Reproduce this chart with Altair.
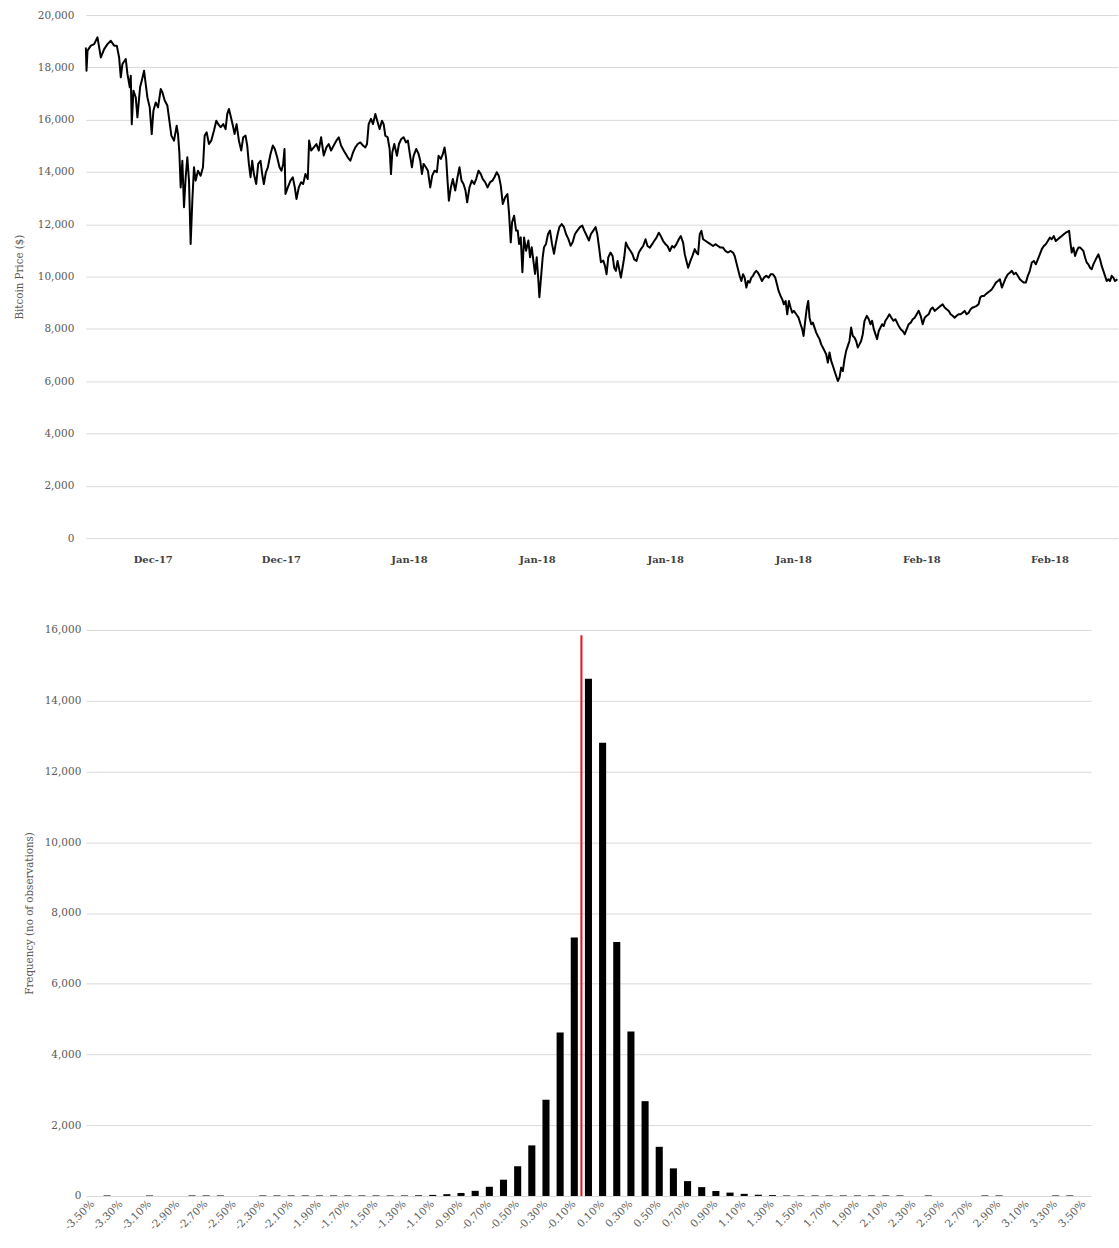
import altair as alt
import pandas as pd

# ---------------------------------------------------------------------------
# Bitcoin price, sampled along the observation sequence
# ---------------------------------------------------------------------------
obs = [
    # mid-December sell-off
    0, 2, 5, 15, 25, 35, 45, 55, 65, 75, 85, 93, 100, 105, 110, 120, 125, 132, 135, 138,
    143, 150, 155, 163, 168, 175, 180, 185, 192, 198, 203, 210, 217, 225, 230, 237, 245, 251, 257, 265,
    273, 277, 281, 285, 290, 295, 300, 305, 310, 315, 320, 325, 330, 337, 345, 352, 357, 363, 370, 377,
    385, 392, 398, 405, 413, 420, 425, 430, 435, 443, 447, 453, 460, 467, 473, 480, 485, 490, 495, 500,
    505, 512, 518, 525, 530, 535, 541, 547, 555, 562, 568, 575, 582, 588, 593, 597, 600, 607, 615, 622,
    628, 633, 640, 647, 653, 660, 667, 671, 677, 685, 693, 700, 707, 715, 723, 730, 737, 745, 753, 760,
    767, 775,
    # early to mid January
    787, 795, 803, 810, 817, 825, 833, 840, 845, 850, 857, 863, 870, 877, 883, 890, 895, 900, 907, 913,
    917, 921, 927, 935, 941, 948, 955, 962, 968, 973, 980, 985, 993, 1000, 1005, 1010, 1015, 1022, 1028, 1035,
    1041, 1048, 1055, 1060, 1067, 1073, 1078, 1083, 1087, 1091, 1097, 1103, 1110, 1117, 1123, 1129, 1135, 1141, 1146, 1153,
    1160, 1167, 1173, 1180, 1187, 1193, 1200, 1207, 1215, 1222, 1228, 1235, 1241, 1247, 1253, 1260, 1267, 1272, 1277, 1281,
    1287, 1293, 1298, 1302, 1307, 1312, 1317, 1323, 1330, 1335, 1340, 1345, 1350, 1355, 1360, 1363, 1368, 1373, 1377, 1383,
    1389, 1395, 1401, 1407, 1412, 1418, 1423, 1430, 1437, 1443, 1450, 1457, 1463, 1470, 1477, 1485, 1492, 1498, 1505, 1512,
    1518, 1525, 1532, 1537, 1543, 1548, 1555, 1560,
    # late January to the February low
    1565, 1570, 1577, 1583, 1588, 1593, 1598, 1603, 1608, 1613, 1618, 1623, 1630, 1637, 1643, 1648, 1655, 1662, 1668, 1675,
    1682, 1688, 1695, 1702, 1708, 1715, 1722, 1728, 1735, 1742, 1748, 1755, 1762, 1768, 1775, 1782, 1788, 1795, 1800, 1805,
    1810, 1817, 1823, 1830, 1835, 1840, 1845, 1850, 1855, 1863, 1870, 1877, 1885, 1892, 1900, 1907, 1915, 1922, 1930, 1937,
    1945, 1950, 1955, 1960, 1965, 1970, 1975, 1980, 1985, 1990, 1995, 2000, 2005, 2010, 2015, 2020, 2025, 2032, 2038, 2045,
    2052, 2058, 2065, 2072, 2077, 2082, 2088, 2093, 2098, 2103, 2108, 2113, 2118, 2123, 2128, 2135, 2142, 2148, 2153, 2157,
    2162, 2167, 2171, 2175, 2180, 2185, 2190, 2195, 2200, 2205, 2210, 2215, 2220, 2225, 2230, 2235, 2240, 2245, 2250, 2255,
    2260, 2265, 2270, 2275, 2280, 2285, 2290, 2295, 2300, 2305, 2310, 2315, 2320, 2325, 2330, 2335, 2340,
    # February recovery
    2347, 2353, 2358, 2363, 2368, 2373, 2378, 2383, 2388, 2393, 2398, 2403, 2409, 2415, 2421, 2427, 2433, 2438, 2443, 2449,
    2455, 2461, 2467, 2473, 2479, 2485, 2491, 2497, 2503, 2509, 2515, 2521, 2527, 2533, 2539, 2545, 2551, 2557, 2563, 2569,
    2575, 2581, 2587, 2593, 2599, 2605, 2611, 2617, 2623, 2629, 2635, 2641, 2647, 2653, 2659, 2665, 2671, 2677, 2683, 2688,
    2693, 2699, 2705, 2711, 2717, 2723, 2729, 2735, 2741, 2747, 2753, 2759, 2765, 2771, 2777, 2783, 2789, 2795, 2801, 2807,
    2813, 2819, 2825, 2831, 2837, 2843, 2849, 2855, 2861, 2867, 2873, 2879, 2885, 2891, 2897, 2903, 2909, 2915, 2921, 2927,
    2933, 2939, 2945, 2951, 2955, 2959, 2963, 2968, 2973, 2978, 2983, 2988, 2993, 2998, 3003, 3008, 3013, 3018, 3023, 3028,
    3033, 3038, 3043, 3048, 3053, 3058, 3063, 3068, 3073, 3078, 3083, 3088, 3093, 3100,
]

price = [
    18760, 17870, 18640, 18830, 18890, 19150, 18380, 18700, 18890, 19020, 18830, 18830, 18380, 17620, 18130, 18320, 17750, 17240, 17680, 15830,
    17110, 16850, 16090, 17240, 17490, 17870, 17360, 16850, 16470, 15450, 16340, 16660, 16470, 17170, 17050, 16730, 16540, 15960, 15390, 15200,
    15770, 15450, 14750, 13410, 14430, 12650, 13800, 14560, 13670, 11250, 12900, 14180, 13670, 14050, 13860, 14180, 15390, 15520, 15070, 15200,
    15580, 15960, 15830, 15710, 15830, 15640, 16220, 16410, 16150, 15710, 15450, 15830, 15200, 14820, 15330, 15390, 15010, 14310, 13800, 14430,
    13920, 13540, 14310, 14430, 13920, 13540, 13990, 14180, 14690, 15010, 14880, 14560, 14180, 14050, 14310, 14880, 13160, 13410, 13670, 13800,
    13410, 12970, 13410, 13610, 13540, 13920, 13730, 15200, 14820, 14940, 15070, 14820, 15330, 14630, 14940, 15070, 14820, 15010, 15200, 15330,
    15010, 14820,
    14560, 14430, 14750, 14940, 15070, 15130, 15010, 14940, 15070, 15830, 16030, 15830, 16220, 15900, 15640, 15960, 15830, 15390, 15330, 14880,
    13920, 14750, 15070, 14620, 15070, 15260, 15330, 15130, 15200, 14750, 14180, 14620, 14880, 14690, 14430, 13920, 14310, 14180, 14050, 13410,
    13860, 14050, 13990, 14620, 14500, 14690, 14940, 14500, 13670, 12900, 13410, 13730, 13290, 13800, 14180, 13670, 13540, 13290, 12840, 13410,
    13670, 13540, 13730, 14050, 13920, 13730, 13610, 13410, 13610, 13670, 13800, 13990, 13860, 13480, 12780, 13030, 13160, 12400, 11310, 12080,
    12330, 11760, 11760, 11250, 11500, 10170, 11500, 10990, 11380, 10740, 11120, 10610, 10100, 10740, 9850, 9210, 9970, 10740, 11120, 11250,
    11630, 11760, 11250, 10870, 11250, 11630, 11890, 12010, 11890, 11630, 11440, 11180, 11310, 11630, 11760, 11890, 11950, 11760, 11570, 11380,
    11630, 11760, 11890, 11630, 11060, 10550, 10610, 10420,
    10090, 10730, 10920, 10790, 10340, 10220, 10600, 10280, 9960, 10340, 10730, 11300, 11110, 10980, 10850, 10660, 10600, 10920, 11050, 11170,
    11430, 11170, 11110, 11240, 11360, 11490, 11680, 11550, 11360, 11240, 11170, 10980, 11170, 11110, 11240, 11430, 11550, 11300, 10850, 10600,
    10340, 10600, 10790, 11050, 10920, 10850, 11620, 11750, 11430, 11360, 11300, 11240, 11170, 11240, 11170, 11110, 11110, 10980, 10920, 10980,
    10920, 10790, 10540, 10280, 10030, 9830, 10090, 9960, 9580, 9830, 9770, 9960, 10030, 10150, 10220, 10150, 10030, 9830, 9960, 10030,
    9960, 10090, 10090, 9960, 9710, 9450, 9260, 9130, 8940, 9070, 8560, 9070, 8820, 8620, 8690, 8560, 8430, 8180, 7990, 7730,
    8310, 8820, 9070, 8430, 8180, 8240, 8050, 7860, 7730, 7610, 7410, 7290, 7160, 7030, 6710, 7100, 6780, 6590, 6390, 6200,
    6010, 6140, 6520, 6390, 6840, 7160, 7350, 7540, 8050, 7730, 7670, 7540, 7290, 7410, 7540, 7800, 8300,
    8500, 8370, 8180, 8310, 7990, 7800, 7610, 7920, 8050, 8180, 8110, 8310, 8430, 8560, 8430, 8310, 8370, 8240, 8110, 7990,
    7920, 7800, 7990, 8180, 8240, 8370, 8430, 8560, 8690, 8500, 8180, 8430, 8500, 8560, 8750, 8820, 8690, 8750, 8820, 8880,
    8940, 8820, 8750, 8690, 8560, 8500, 8430, 8500, 8560, 8560, 8620, 8690, 8560, 8620, 8750, 8820, 8840, 8880, 8940, 9200,
    9260, 9260, 9330, 9390, 9450, 9520, 9640, 9770, 9830, 9900, 9580, 9770, 9960, 10090, 10150, 10220, 10090, 10150, 10030, 9900,
    9830, 9770, 9770, 10030, 10220, 10540, 10600, 10470, 10660, 10850, 11050, 11170, 11240, 11360, 11490, 11430, 11550, 11360, 11430, 11490,
    11550, 11620, 11680, 11720, 11750, 11300, 10920, 11110, 10790, 10980, 11110, 11110, 11050, 10980, 10730, 10540, 10470, 10340, 10280, 10470,
    10600, 10730, 10850, 10660, 10410, 10220, 10030, 9830, 9900, 9830, 10030, 9960, 9830, 9900,
]

obs_total = 3102
price_ticks = [0, 2000, 4000, 6000, 8000, 10000, 12000, 14000, 16000, 18000, 20000]
date_tick_obs = [201, 586, 971, 1356, 1741, 2126, 2511, 2896]
date_tick_labels = ["Dec-17", "Dec-17", "Jan-18", "Jan-18", "Jan-18", "Jan-18", "Feb-18", "Feb-18"]

# ---------------------------------------------------------------------------
# Distribution of returns
# ---------------------------------------------------------------------------
return_bins = [
    "-3.50%", "-3.40%", "-3.30%", "-3.20%", "-3.10%", "-3.00%", "-2.90%", "-2.80%", "-2.70%", "-2.60%",
    "-2.50%", "-2.40%", "-2.30%", "-2.20%", "-2.10%", "-2.00%", "-1.90%", "-1.80%", "-1.70%", "-1.60%",
    "-1.50%", "-1.40%", "-1.30%", "-1.20%", "-1.10%", "-1.00%", "-0.90%", "-0.80%", "-0.70%", "-0.60%",
    "-0.50%", "-0.40%", "-0.30%", "-0.20%", "-0.10%", "0.00%", "0.10%", "0.20%", "0.30%", "0.40%",
    "0.50%", "0.60%", "0.70%", "0.80%", "0.90%", "1.00%", "1.10%", "1.20%", "1.30%", "1.40%",
    "1.50%", "1.60%", "1.70%", "1.80%", "1.90%", "2.00%", "2.10%", "2.20%", "2.30%", "2.40%",
    "2.50%", "2.60%", "2.70%", "2.80%", "2.90%", "3.00%", "3.10%", "3.20%", "3.30%", "3.40%",
    "3.50%",
]
frequency = [
    0, 15, 0, 0, 15, 0, 0, 15, 15, 15,
    0, 0, 15, 15, 15, 15, 15, 15, 15, 15,
    15, 15, 15, 20, 30, 50, 85, 145, 260, 460,
    840, 1430, 2720, 4620, 7310, 14620, 12810, 7180, 4650, 2680,
    1390, 780, 420, 250, 140, 95, 60, 35, 25, 15,
    15, 15, 15, 15, 15, 15, 15, 15, 0, 15,
    0, 0, 0, 15, 15, 0, 0, 0, 15, 15,
    0,
]
freq_ticks = [0, 2000, 4000, 6000, 8000, 10000, 12000, 14000, 16000]
shown_bins = return_bins[::2]
marker_bin = "0.00%"
marker_top = 15850

FONT = "DejaVu Serif"
TEXT = "#595959"
GRID = "#d9d9d9"

# ---------------------------------------------------------------------------
# Price line
# ---------------------------------------------------------------------------
price_df = pd.DataFrame({"obs": obs, "price": price})
date_label_expr = (
    "[" + ",".join(f"'{t}'" for t in date_tick_labels) + "]"
    + "[indexof([" + ",".join(str(v) for v in date_tick_obs) + "], datum.value)]"
)

price_chart = (
    alt.Chart(price_df)
    .mark_line(color="black", strokeWidth=2, strokeJoin="round")
    .encode(
        x=alt.X(
            "obs:Q",
            scale=alt.Scale(domain=[0, obs_total], nice=False, zero=False),
            axis=alt.Axis(
                values=date_tick_obs,
                labelExpr=date_label_expr,
                title=None,
                grid=False,
                domain=False,
                ticks=False,
                tickSize=0,
                labelPadding=16,
                labelFont=FONT,
                labelFontSize=10,
                labelFontWeight="bold",
                labelColor="#404040",
            ),
        ),
        y=alt.Y(
            "price:Q",
            scale=alt.Scale(domain=[0, 20000], nice=False),
            axis=alt.Axis(
                values=price_ticks,
                format=",.0f",
                title="Bitcoin Price ($)",
                titleFont=FONT,
                titleFontSize=10.3,
                titleFontWeight="normal",
                titleColor=TEXT,
                titlePadding=13,
                labelFont=FONT,
                labelFontSize=10.5,
                labelColor=TEXT,
                labelPadding=12,
                domain=False,
                ticks=False,
                tickSize=0,
                grid=True,
                gridColor=GRID,
                gridWidth=1,
            ),
        ),
    )
    .properties(width=1034, height=524)
)

# ---------------------------------------------------------------------------
# Histogram with the zero-return marker
# ---------------------------------------------------------------------------
hist_df = pd.DataFrame({"bin": return_bins, "freq": frequency})
marker_df = pd.DataFrame({"bin": [marker_bin], "top": [marker_top], "base": [0]})
bin_scale = alt.Scale(domain=return_bins, paddingInner=0.5, paddingOuter=0.25)

bars = (
    alt.Chart(hist_df)
    .mark_bar(color="black")
    .encode(
        x=alt.X(
            "bin:N",
            scale=bin_scale,
            sort=None,
            axis=alt.Axis(
                values=shown_bins,
                title=None,
                labelAngle=-45,
                labelAlign="right",
                labelBaseline="middle",
                labelFont=FONT,
                labelFontSize=10.5,
                labelColor=TEXT,
                labelPadding=6,
                domain=False,
                ticks=False,
                tickSize=0,
                grid=False,
            ),
        ),
        y=alt.Y(
            "freq:Q",
            scale=alt.Scale(domain=[0, 16000], nice=False),
            axis=alt.Axis(
                values=freq_ticks,
                format=",.0f",
                title="Frequency (no of observations)",
                titleFont=FONT,
                titleFontSize=10.3,
                titleFontWeight="normal",
                titleColor=TEXT,
                titlePadding=10,
                labelFont=FONT,
                labelFontSize=10.5,
                labelColor=TEXT,
                labelPadding=5,
                domain=False,
                ticks=False,
                tickSize=0,
                grid=True,
                gridColor=GRID,
                gridWidth=1,
            ),
        ),
    )
)

marker = (
    alt.Chart(marker_df)
    .mark_rule(color="#e8101c", strokeWidth=2, xOffset=-3.5)
    .encode(
        x=alt.X("bin:N", scale=bin_scale, sort=None, bandPosition=0),
        y=alt.Y("top:Q"),
        y2=alt.Y2("base:Q"),
    )
)

hist = alt.layer(bars, marker).properties(width=1007, height=567)

chart = (
    alt.vconcat(price_chart, hist, spacing=61)
    .properties(padding={"left": 14, "top": 9, "right": 0, "bottom": 0}, background="white")
    .configure_view(stroke=None)
)

chart.save("out.html", embed_options={"renderer": "svg", "actions": False})
